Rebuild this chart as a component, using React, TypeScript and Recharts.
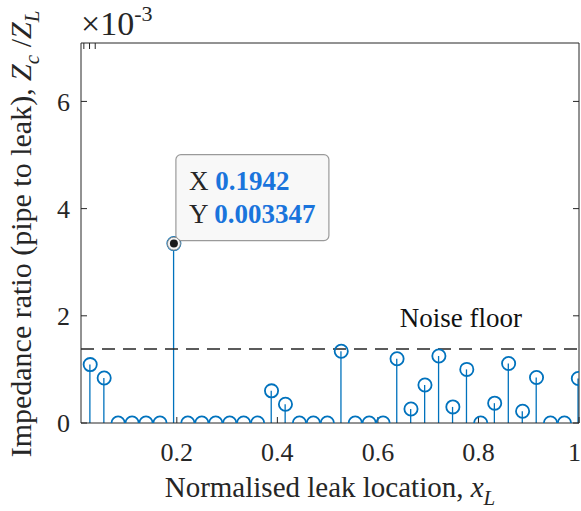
import React from "react";
import {
  ComposedChart,
  Bar,
  Scatter,
  XAxis,
  YAxis,
  ReferenceLine,
  ReferenceDot,
} from "recharts";

// leak location candidates (normalised)
const locations = [
  0.0277, 0.0555, 0.0832, 0.111, 0.1387, 0.1665, 0.1942, 0.2219, 0.2497,
  0.2774, 0.3052, 0.3329, 0.3607, 0.3884, 0.4161, 0.4439, 0.4716, 0.4994,
  0.5271, 0.5549, 0.5826, 0.6103, 0.6381, 0.6658, 0.6936, 0.7213, 0.7491,
  0.7768, 0.8045, 0.8323, 0.86, 0.8878, 0.9155, 0.9433, 0.971, 0.9987,
];

// impedance ratio Zc/ZL
const ratios = [
  0.00109, 0.00084, 0, 0, 0, 0, 0.003347, 0, 0, 0, 0, 0, 0, 0.0006, 0.00035,
  0, 0, 0, 0.00134, 0, 0, 0, 0.0012, 0.00026, 0.00071, 0.00125, 0.0003,
  0.001, 0, 0.00037, 0.00111, 0.00022, 0.00085, 0, 0, 0.00083,
];

const xTicks = [0.2, 0.4, 0.6, 0.8, 1];
const yTicks = [0, 0.002, 0.004, 0.006];
const noiseFloor = 0.00138;
const tipX = 0.1942;
const tipY = 0.003347;

const data = locations.map((x, i) => ({ x, y: ratios[i] }));

const BLUE = "#0072BD";
const AXIS = "#262626";
const FONT = "Liberation Serif";

const tickStyle = { fontSize: 26, fill: AXIS, fontFamily: FONT };

const Stem = (props: any) => {
  const { cx, cy } = props;
  if (cx == null || cy == null) return null;
  return <circle cx={cx} cy={cy} r={6.6} fill="none" stroke={BLUE} strokeWidth={1.8} />;
};

const DataTip = (props: any) => {
  const { cx, cy } = props;
  return (
    <g fontFamily={FONT}>
      <rect
        x={cx + 2}
        y={cy - 89}
        width={153}
        height={86}
        rx={5}
        fill="#f8f8f8"
        stroke="#9a9a9a"
        strokeWidth={1.2}
      />
      <text x={cx + 15} y={cy - 54} fontSize={27} fill={AXIS}>
        X{" "}
        <tspan fill="#1a74dc" fontWeight="bold">
          {tipX.toString()}
        </tspan>
      </text>
      <text x={cx + 15} y={cy - 21} fontSize={27} fill={AXIS}>
        Y{" "}
        <tspan fill="#1a74dc" fontWeight="bold">
          {tipY.toFixed(6)}
        </tspan>
      </text>
      <circle cx={cx} cy={cy} r={6.5} fill="#f4f4f4" stroke="#8a8a8a" strokeWidth={1} />
      <circle cx={cx} cy={cy} r={4} fill="#1a1a1a" />
    </g>
  );
};

const YTitle = (props: any) => {
  const { viewBox } = props;
  const cy = viewBox.y + viewBox.height / 2 + 1;
  return (
    <g fontFamily={FONT} fill={AXIS}>
      <text
        transform={`translate(31, ${cy}) rotate(-90)`}
        textAnchor="middle"
        fontSize={30}
      >
        Impedance ratio (pipe to leak),{" "}
        <tspan fontStyle="italic">Z</tspan>
        <tspan fontSize={21} dy={8} fontStyle="italic">c</tspan>
        <tspan dy={-8}> /</tspan>
        <tspan fontStyle="italic">Z</tspan>
        <tspan fontSize={21} dy={8} fontStyle="italic">L</tspan>
      </text>
      <text x={viewBox.x + viewBox.width} y={35} fontSize={34}>
        ×10
        <tspan fontSize={22} dy={-14}>-3</tspan>
      </text>
    </g>
  );
};

const XTitle = (props: any) => {
  const { viewBox } = props;
  const cx = viewBox.x + viewBox.width / 2;
  return (
    <text x={cx} y={viewBox.y + 74} textAnchor="middle" fontSize={29} fontFamily={FONT} fill={AXIS}>
      Normalised leak location,{" "}
      <tspan fontStyle="italic">x</tspan>
      <tspan fontSize={21} dy={8} fontStyle="italic">L</tspan>
    </text>
  );
};

const NoiseLabel = (props: any) => {
  const { viewBox } = props;
  return (
    <text
      x={viewBox.x + viewBox.width * 0.64}
      y={viewBox.y - 22}
      fontSize={27}
      fontFamily={FONT}
      fill="#111"
    >
      Noise floor
    </text>
  );
};

export default function App() {
  return (
    <div style={{ width: 581, height: 511, background: "#fff", fontFamily: FONT }}>
      <style>{`body{margin:0} svg text{font-family:'Liberation Serif',serif !important}`}</style>
      <ComposedChart
        width={581}
        height={511}
        data={data}
        margin={{ top: 13, right: 1, bottom: 0, left: 0 }}
      >
        <XAxis
          type="number"
          dataKey="x"
          domain={[0.0094, 1]}
          ticks={xTicks}
          allowDataOverflow
          height={88}
          tickFormatter={(v) => String(v)}
          tick={tickStyle}
          tickSize={-6}
          tickMargin={26}
          axisLine={{ stroke: AXIS }}
          tickLine={{ stroke: AXIS }}
          label={<XTitle />}
        />
        <XAxis
          xAxisId="top"
          orientation="top"
          type="number"
          domain={[0.0094, 1]}
          ticks={xTicks}
          allowDataOverflow
          height={30}
          tickFormatter={() => ""}
          tickSize={-6}
          axisLine={{ stroke: AXIS }}
          tickLine={{ stroke: AXIS }}
        />
        <YAxis
          type="number"
          domain={[0, 0.00709]}
          ticks={yTicks}
          allowDataOverflow
          width={81}
          tickFormatter={(v) => String(Math.round(v * 1000))}
          tick={tickStyle}
          tickSize={-6}
          tickMargin={17}
          axisLine={{ stroke: AXIS }}
          tickLine={{ stroke: AXIS }}
          label={<YTitle />}
        />
        <YAxis
          yAxisId="right"
          orientation="right"
          type="number"
          domain={[0, 0.00709]}
          ticks={yTicks}
          allowDataOverflow
          width={1}
          tickFormatter={() => ""}
          tickSize={-6}
          axisLine={{ stroke: AXIS }}
          tickLine={{ stroke: AXIS }}
        />
        <Bar dataKey="y" barSize={1.3} fill={BLUE} isAnimationActive={false} />
        <Scatter dataKey="y" shape={<Stem />} isAnimationActive={false} />
        <ReferenceLine
          y={noiseFloor}
          stroke={AXIS}
          strokeWidth={1.5}
          strokeDasharray="13 8"
          label={<NoiseLabel />}
        />
        <ReferenceDot x={tipX} y={tipY} shape={<DataTip />} />
      </ComposedChart>
    </div>
  );
}
